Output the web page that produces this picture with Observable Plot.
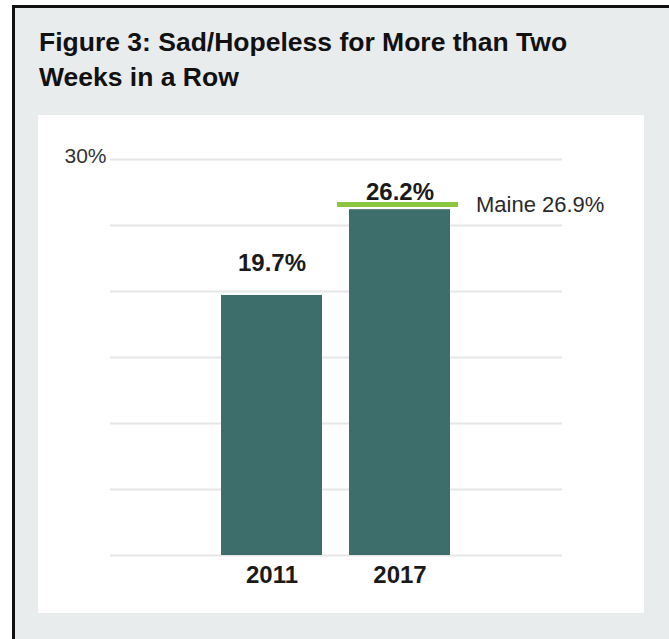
<!DOCTYPE html>
<html>
<head>
<meta charset="utf-8">
<script src="https://cdn.jsdelivr.net/npm/d3@7"></script>
<script src="https://cdn.jsdelivr.net/npm/@observablehq/plot@0.6"></script>
<style>
  html, body { margin: 0; padding: 0; background: #ffffff; }
  #frame {
    position: absolute; left: 12px; top: 5px; width: 657px; height: 634px;
    background: #e9eced; border-left: 3px solid #111; border-top: 3px solid #111;
  }
  #title {
    position: absolute; left: 24px; top: 17px; width: 620px;
    font-family: "Liberation Sans", Arial, Helvetica, sans-serif;
    font-weight: bold; font-size: 26.5px; line-height: 35px; color: #111;
  }
  #panel {
    position: absolute; left: 23px; top: 107px; width: 606px; height: 498px;
    background: #fff;
  }
</style>
</head>
<body>
<div id="frame">
  <div id="title">Figure 3: Sad/Hopeless for More than Two<br>Weeks in a Row</div>
  <div id="panel"></div>
</div>
<script>
const years = ["2011", "2017"];
const values = [19.7, 26.2];
const maineYear = "2017";
const maineValue = 26.9;
const maineLabel = "Maine 26.9%";
const gridTicks = [0, 5, 10, 15, 20, 25, 30];
const yTickLabels = [30];

const data = years.map((y, i) => ({year: y, value: values[i]}));
const font = '"Liberation Sans", Arial, Helvetica, sans-serif';

const chart = Plot.plot({
  width: 606,
  height: 498,
  marginLeft: 72,
  marginRight: 82,
  marginTop: 44,
  marginBottom: 58,
  style: {background: "#fff", fontFamily: font, color: "#222"},
  x: {domain: years, paddingInner: 0.21, paddingOuter: 0.864, label: null},
  y: {domain: [0, 30], label: null},
  marks: [
    Plot.ruleY(gridTicks, {stroke: "#e6e6e6", strokeWidth: 2}),
    Plot.barY(data, {x: "year", y: "value", fill: "#3d6e6c"}),
    Plot.tickY([{year: maineYear, value: maineValue}], {x: "year", y: "value", stroke: "#8cc63f", strokeWidth: 5, insetLeft: -12, insetRight: -8, dy: 4}),
    Plot.text(data.filter(d => d.year !== maineYear), {x: "year", y: "value", text: d => d.value.toFixed(1) + "%", dy: -32, fontSize: 24, fontWeight: "bold", fill: "#1a1a1a"}),
    Plot.text(data.filter(d => d.year === maineYear), {x: "year", y: "value", text: d => d.value.toFixed(1) + "%", dy: -17, fontSize: 24, fontWeight: "bold", fill: "#1a1a1a"}),
    Plot.text([{year: maineYear, value: maineValue}], {x: "year", y: "value", text: () => maineLabel, dx: 76, dy: 5, textAnchor: "start", fontSize: 22, fill: "#2a2a2a"}),
    Plot.axisX({tickSize: 0, tickPadding: 10, fontSize: 24, fontWeight: "bold", fill: "#1a1a1a"}),
    Plot.axisY({ticks: yTickLabels, tickSize: 0, tickPadding: 4, tickFormat: d => d + "%", fontSize: 21, fill: "#333", dy: -3})
  ]
});
document.getElementById("panel").appendChild(chart);
</script>
</body>
</html>
